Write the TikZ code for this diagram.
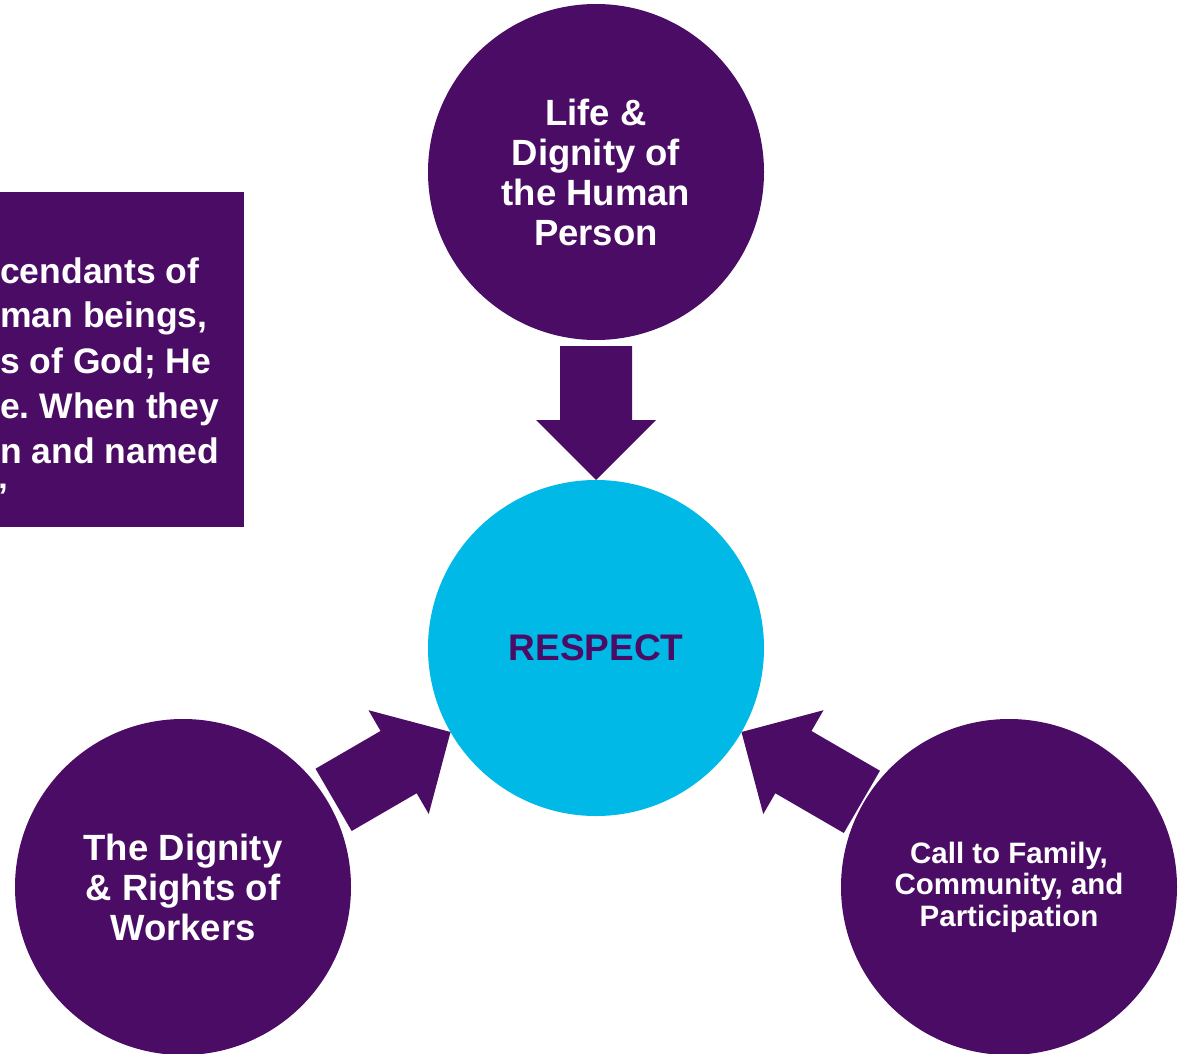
\documentclass[tikz,border=0pt]{standalone}
\usepackage{fontspec}
\setmainfont{Liberation Sans}
\usetikzlibrary{calc}
\frenchspacing
\definecolor{deeppurple}{HTML}{4A0C64}
\definecolor{skycyan}{HTML}{00B9E6}
\tikzset{
  circ/.style={circle, fill=deeppurple, minimum size=336pt, inner sep=0pt, outer sep=0pt,
    text=white, align=center, font=\bfseries\fontsize{36.5}{40}\selectfont},
  hub/.style={circ, fill=skycyan, text=deeppurple, font=\bfseries\fontsize{37}{40}\selectfont},
  smallcirc/.style={circ, font=\bfseries\fontsize{29.5}{31.5}\selectfont},
  blockarr/.style={fill=deeppurple},
  quotetext/.style={text=white, font=\bfseries\fontsize{35.5}{45}\selectfont, inner sep=0pt, anchor=base west},
}
\newcommand\fatarrow[2]{%
  \coordinate (h) at ($(#1)!60pt!(#2)$);
  \fill[blockarr] (#1) -- ($(h)!60pt!90:(#1)$) -- ($(h)!36pt!90:(#1)$)
    -- ($(#2)!36pt!90:(#1)$) -- ($(#2)!36pt!-90:(#1)$)
    -- ($(h)!36pt!-90:(#1)$) -- ($(h)!60pt!-90:(#1)$) -- cycle;
}
\begin{document}
\begin{tikzpicture}[x=1pt,y=-1pt]
  \path[use as bounding box, fill=white] (0,0) rectangle (1180,1054);
  \clip (0,0) rectangle (1180,1054);

  % quote box (cut at the left edge)
  \node[fill=deeppurple, anchor=north west, minimum width=254pt, minimum height=335pt, inner sep=0pt] (quotebox) at (-10,192) {};
  \node[quotetext] (q1) at (0,283) {cendants of};
  \node[quotetext] (q2) at (0,327) {man beings,};
  \node[quotetext] (q3) at (0,373) {s of God; He};
  \node[quotetext] (q4) at (0,418) {e. When they};
  \node[quotetext] (q5) at (0,463) {n and named};
  \node[quotetext] (q6) at (-1.5,508) {’};

  % circles
  \node[circ] (top) at (596,172) {Life \&\\Dignity of\\the Human\\Person};
  \node[hub] (c) at (596,648) {RESPECT};
  \node[circ] (bl) at (183,887) {The Dignity\\\& Rights of\\Workers};
  \node[smallcirc] (br) at (1009,887) {Call to Family,\\Community, and\\Participation};

  % block arrows
  \coordinate (t1) at (c.90);
  \coordinate (b1) at ($(top.center)!174pt!(c.center)$);
  \fatarrow{t1}{b1}
  \coordinate (t2) at (c.210);
  \coordinate (b2) at ($(bl.center)!174pt!(c.center)$);
  \fatarrow{t2}{b2}
  \coordinate (t3) at (c.-30);
  \coordinate (b3) at ($(br.center)!170pt!(c.center)$);
  \fatarrow{t3}{b3}
\end{tikzpicture}
\end{document}
